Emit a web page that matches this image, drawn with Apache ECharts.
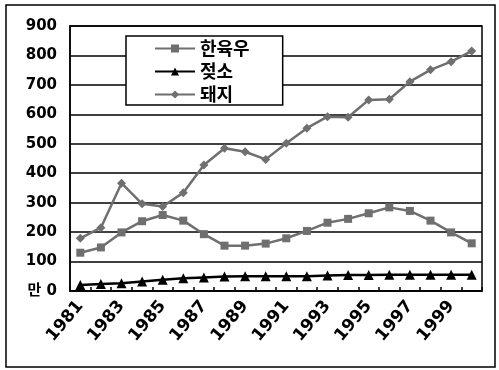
<!DOCTYPE html>
<html>
<head>
<meta charset="utf-8">
<script src="https://cdn.jsdelivr.net/npm/echarts@6/dist/echarts.min.js"></script>
<style>
  html, body { margin: 0; padding: 0; background: #fff; }
  #chart { width: 499px; height: 370px; }
</style>
</head>
<body>
<div id="chart"></div>
<script>
// Livestock head counts (unit: 만), 1981–2000
const years = ['1981','1982','1983','1984','1985','1986','1987','1988','1989','1990',
               '1991','1992','1993','1994','1995','1996','1997','1998','1999','2000'];
const hanwoo = [130, 148, 199, 237, 258, 239, 193, 154, 154, 161, 179, 204, 232, 245, 264, 284, 272, 239, 199, 162];
const dairy  = [20, 24, 26, 32, 38, 43, 46, 49, 50, 50, 50, 50, 53, 54, 54, 55, 55, 55, 55, 55];
const pigs   = [179, 215, 366, 296, 287, 334, 428, 485, 473, 447, 502, 553, 592, 590, 649, 651, 711, 751, 779, 815];

const gray = '#6f6f6f';
const font = "'DejaVu Sans', 'Noto Sans CJK KR', sans-serif";
const krFont = "'Noto Sans CJK KR', sans-serif";

const chart = echarts.init(document.getElementById('chart'));
chart.setOption({
  animation: false,
  backgroundColor: '#fff',
  graphic: [{
    type: 'rect',
    shape: { x: 6, y: 5, width: 489, height: 362 },
    style: { fill: 'none', stroke: '#000', lineWidth: 1.5 },
    z: -1
  }],
  grid: {
    left: 70, right: 17, top: 26, bottom: 79,
    show: true, borderColor: '#000', borderWidth: 1.5, backgroundColor: '#fff'
  },
  legend: {
    orient: 'vertical',
    left: 126, top: 36,
    padding: [3, 33, 1, 28],
    backgroundColor: '#fff',
    borderColor: '#000',
    borderWidth: 1.5,
    itemWidth: 40,
    itemHeight: 10,
    itemGap: 4,
    textStyle: { fontFamily: krFont, fontWeight: 'bold', fontSize: 18, lineHeight: 19, color: '#000' },
    data: ['한육우', '젖소', '돼지']
  },
  xAxis: {
    type: 'category',
    data: years,
    boundaryGap: true,
    axisLine: { lineStyle: { color: '#000', width: 1.5 } },
    axisTick: { show: true, inside: true, length: 4, interval: 0, lineStyle: { color: '#000', width: 1.5 } },
    axisLabel: {
      interval: 1,
      rotate: 50,
      margin: 12,
      fontFamily: font,
      fontWeight: 'bold',
      fontSize: 17,
      color: '#000'
    }
  },
  yAxis: {
    type: 'value',
    min: 0, max: 900, interval: 100,
    axisLine: { show: true, lineStyle: { color: '#000', width: 1.5 } },
    axisTick: { show: false },
    splitLine: { lineStyle: { color: '#000', width: 1.5 } },
    axisLabel: {
      margin: 13,
      fontFamily: font,
      fontWeight: 'bold',
      fontSize: 15,
      color: '#000',
      formatter: v => (v === 0 ? '만 0' : String(v))
    }
  },
  series: [
    {
      name: '한육우', type: 'line', data: hanwoo,
      symbol: 'rect', symbolSize: 8,
      lineStyle: { color: gray, width: 2.5 },
      itemStyle: { color: gray }
    },
    {
      name: '젖소', type: 'line', data: dairy,
      symbol: 'triangle', symbolSize: 10,
      lineStyle: { color: '#000', width: 2.5 },
      itemStyle: { color: '#000' }
    },
    {
      name: '돼지', type: 'line', data: pigs,
      symbol: 'diamond', symbolSize: 9,
      lineStyle: { color: gray, width: 2.5 },
      itemStyle: { color: gray }
    }
  ]
});
</script>
</body>
</html>
